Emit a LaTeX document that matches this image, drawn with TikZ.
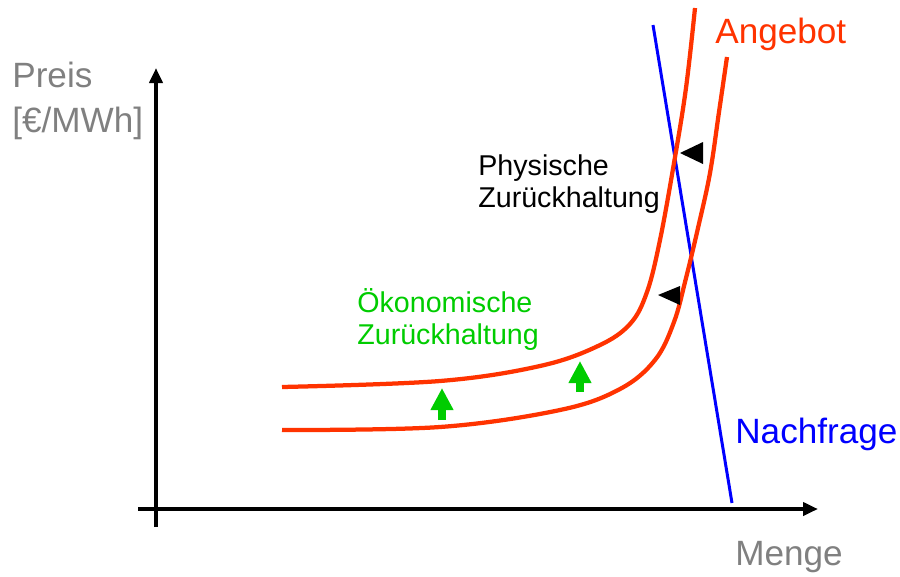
\documentclass[tikz,border=0pt]{standalone}
\usepackage{fontspec}
\setmainfont{Liberation Sans}
\usepackage{tikz}
\usetikzlibrary{positioning, arrows.meta, calc}
\definecolor{angebotrot}{HTML}{FF3300}
\definecolor{nachfrageblau}{HTML}{0000FF}
\definecolor{oekogruen}{HTML}{00CC00}
\definecolor{achsgrau}{HTML}{808080}
\tikzset{
  achse/.style={line width=0.075cm, black, -{Triangle[length=0.3cm, width=0.26cm]}},
  angebot/.style={line width=0.085cm, angebotrot},
  nachfrage/.style={line width=0.06cm, nachfrageblau},
  hebung/.style={line width=0.16cm, oekogruen, -{Triangle[length=0.44cm, width=0.43cm]}},
  gross/.style={font=\fontsize{20}{24}\selectfont, inner sep=0pt, anchor=base west},
  klein/.style={font=\fontsize{16.3}{19}\selectfont, inner sep=0pt, anchor=base west}
}
\begin{document}
\begin{tikzpicture}[x=0.02cm, y=-0.02cm]
    \useasboundingbox (0,0) rectangle (900,576);

    % Achsen
    \coordinate (ursprung) at (156,527);
    \coordinate (ytop) at (156,68);
    \coordinate (xlinks) at (138,509);
    \coordinate (xrechts) at (818,509);
    \draw [achse] (ursprung) -- (ytop);
    \draw [achse] (xlinks) -- (xrechts);

    \node (preis) [gross, text=achsgrau] at (12,87) {Preis};
    \node (einheit) [gross, text=achsgrau] at (12,132) {[€/MWh]};
    \node (menge) [gross, text=achsgrau] at (735,565) {Menge};

    % Nachfrage
    \coordinate (nfoben) at (653,25);
    \coordinate (nfunten) at (732,503);
    \draw [nachfrage] (nfoben) -- (nfunten);
    \node (nachfrage) [gross, text=nachfrageblau] at (735,443) {Nachfrage};

    % Angebotskurven
    \draw [angebot] plot [smooth, tension=0.6] coordinates {
      (282,387) (440,381) (540,366) (598,346) (630,324) (647,292)
      (660,240) (674,163) (686,88) (695,8)};
    \draw [angebot] plot [smooth, tension=0.6] coordinates {
      (282,430) (440,427) (560,410) (620,389) (655,360) (674,322)
      (686,278) (698,228) (710,173) (719,112) (727,57)};
    \node (angebot) [gross, text=angebotrot] at (715,43) {Angebot};

    % Zurueckhaltung
    \fill [black] (680,153) -- (703,142) -- (703,164) -- cycle;
    \fill [black] (658,295) -- (680,286) -- (680,305) -- cycle;
    \node (phys1) [klein, text=black] at (478,175) {Physische};
    \node (phys2) [klein, text=black] at (478,207) {Zurückhaltung};

    \draw [hebung] (442,420) -- (442,388);
    \draw [hebung] (580,392) -- (580,361);
    \node (oeko1) [klein, text=oekogruen] at (357,312) {Ökonomische};
    \node (oeko2) [klein, text=oekogruen] at (357,344) {Zurückhaltung};

\end{tikzpicture}
\end{document}
